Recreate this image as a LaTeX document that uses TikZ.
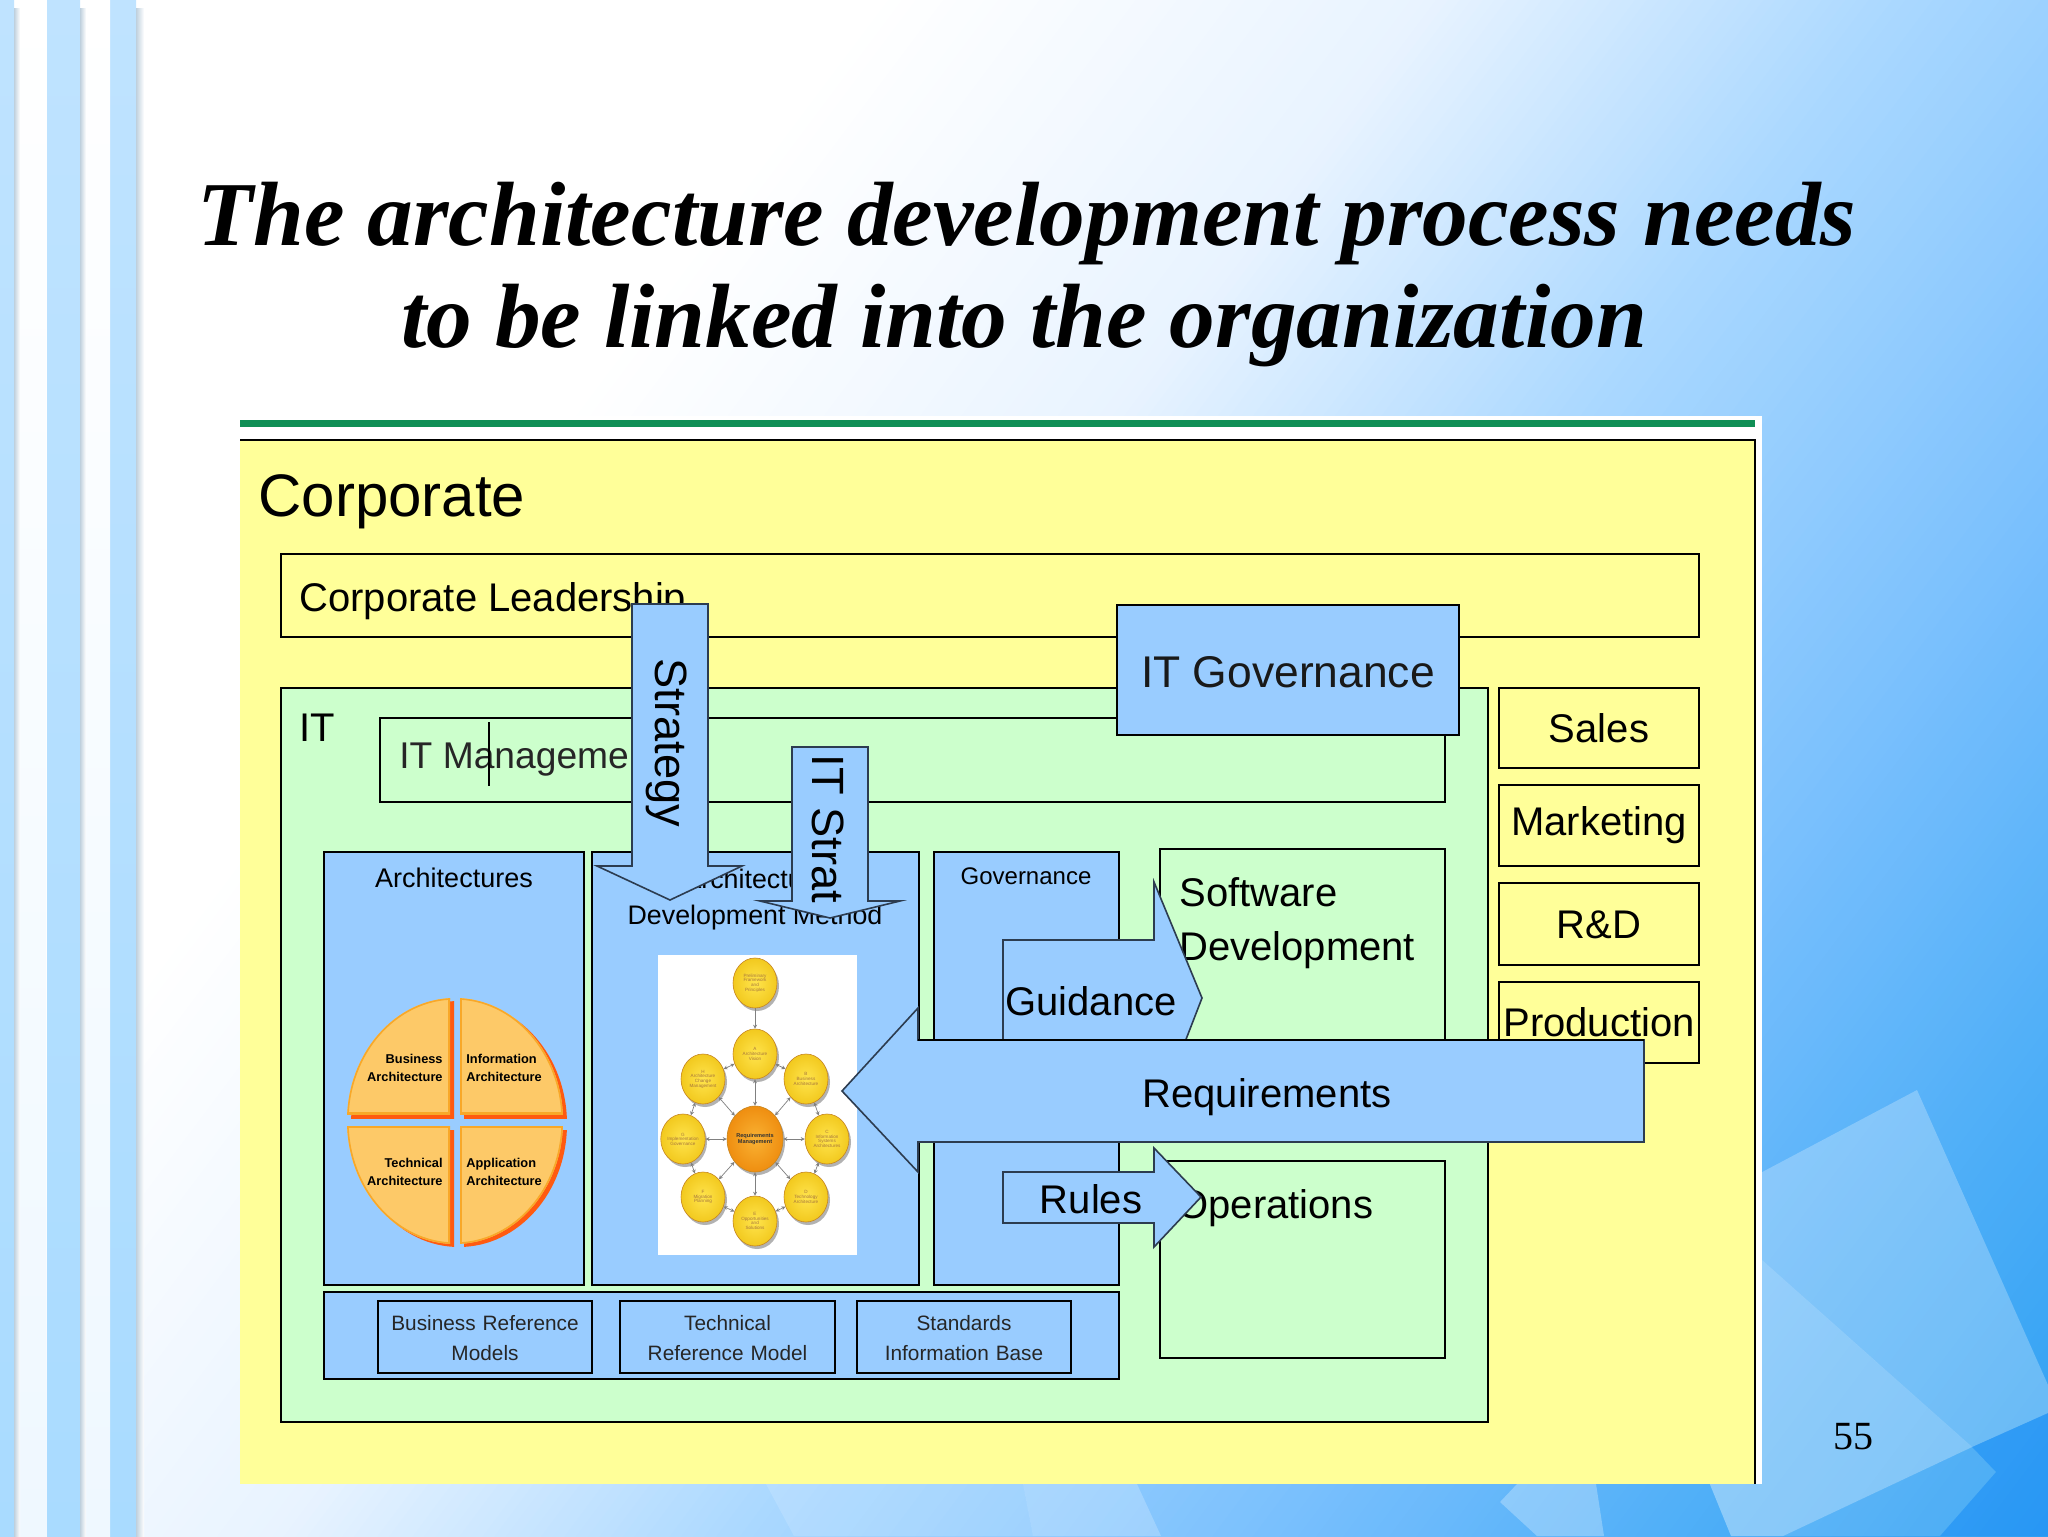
\documentclass[tikz,border=0pt]{standalone}
\usepackage{fontspec}
\setmainfont{Liberation Serif}
\setsansfont{Liberation Sans}
\usetikzlibrary{shapes.geometric,arrows.meta}
\definecolor{cyel}{HTML}{FFFF99}
\definecolor{cgrn}{HTML}{CCFFCC}
\definecolor{cblu}{HTML}{99CCFF}
\definecolor{cbar}{HTML}{0F8F55}
\definecolor{cstr}{HTML}{BFE3FF}
\definecolor{cstrb}{HTML}{A9DBFF}
\definecolor{cedge}{HTML}{2C3C50}
\definecolor{bgA}{HTML}{FFFFFF}
\definecolor{bgB}{HTML}{FFFFFF}
\definecolor{bgC}{HTML}{E8F3FF}
\definecolor{bgD}{HTML}{AAD8FF}
\definecolor{bgE}{HTML}{78BFFD}
\definecolor{bgF}{HTML}{52B0F8}
\definecolor{bgG}{HTML}{2C9FF2}
\definecolor{qfill}{HTML}{FDC968}
\definecolor{qedge}{HTML}{F8A829}
\definecolor{qshad}{HTML}{FF5A10}
\definecolor{ycin}{HTML}{FFE44D}
\definecolor{ycout}{HTML}{F2C91E}
\definecolor{rcin}{HTML}{F9B233}
\definecolor{rcout}{HTML}{EF8E10}
\newcommand{\fsz}[1]{\fontsize{#1}{#1}\selectfont}
\newcommand{\myquad}[4]{%
  \begin{scope}\clip ({#1+4},{#2+4}) rectangle ({#3+4},{#4+4});
    \fill[qshad] (459,1124) ellipse [x radius=108,y radius=123];\end{scope}
  \begin{scope}\clip (455,1121) ellipse [x radius=108,y radius=123];
    \clip (#1,#2) rectangle (#3,#4);
    \fill[qfill] (#1,#2) rectangle (#3,#4);
    \draw[qedge,line width=1.6pt] (455,1121) ellipse [x radius=108,y radius=123];
    \draw[qedge,line width=1.6pt] (#1,#2) rectangle (#3,#4);\end{scope}}
\tikzset{
  x=0.5pt,y=-0.5pt,
  yelbox/.style={fill=cyel,draw=black,line width=1.2pt,font=\sffamily\fsz{20}},
  grnbox/.style={fill=cgrn,draw=black,line width=1.2pt,font=\sffamily\fsz{20}},
  blubox/.style={fill=cblu,draw=black,line width=1.3pt},
  reflabel/.style={font=\sffamily\fsz{10.4},align=center,text=black!85,text width=105pt},
  lbl/.style={font=\sffamily\fsz{20},inner sep=0pt,anchor=west},
  blockarrow/.style={fill=cblu,draw=cedge,line width=0.8pt,line join=miter},
  arrowtext/.style={font=\sffamily\fsz{20},inner sep=0pt},
  quadtext/.style={font=\sffamily\bfseries\fsz{6.4},inner sep=0pt,align=left},
  yc/.style={ellipse,inner sep=0pt,minimum width=22pt,minimum height=25pt,draw=qedge!80!black,line width=.3pt,
     shade,inner color=ycin,outer color=ycout,
     font=\sffamily\fsz{2.3},text=black!55!yellow!70!red,align=center},
  link/.style={draw=black!50,line width=.35pt,{Stealth[length=2pt,width=2pt]}-{Stealth[length=2pt,width=2pt]}},
}
\begin{document}
\begin{tikzpicture}
\useasboundingbox (0,0) rectangle (2048,1536);
% background
\begin{scope}
\clip (0,0) rectangle (2048,1536);
\fill[white] (0,0) rectangle (2048,1536);
\foreach \ta/\tb/\ca/\cb in {700/1140/bgB/bgC,1140/1514/bgC/bgD,1514/1946/bgD/bgE,1946/2238/bgE/bgF,2238/2570/bgF/bgG}{
 \foreach \s in {0,1,...,39}{
  \pgfmathsetmacro\tv{\ta+(\tb-\ta)/40*\s}
  \pgfmathsetmacro\pp{\s*100/40}
  \colorlet{cc}{\cb!\pp!\ca}
  \fill[cc] ({\tv*0.8-1800},{\tv*0.6+2400}) -- ({\tv*0.8+1800},{\tv*0.6-2400})
     -- ({\tv*0.8+1800+2400},{\tv*0.6-2400+1800}) -- ({\tv*0.8-1800+2400},{\tv*0.6+2400+1800}) -- cycle;
 }}
% decorative sheets
\fill[white,opacity=.26] (1917,1090) -- (2048,1385) -- (2048,1413) -- (1972,1447) -- (1700,1205) -- cycle;
\fill[white,opacity=.36] (1700,1205) -- (1972,1447) -- (1783,1536) -- (1731,1536) -- (1700,1460) -- cycle;
\fill[white,opacity=.12] (1972,1447) -- (1996,1472) -- (1940,1536) -- (1783,1536) -- cycle;
\fill[blue!60!cyan,opacity=.14] (1972,1447) -- (2048,1413) -- (2048,1536) -- (1940,1536) -- (1996,1472) -- cycle;
\fill[white,opacity=.14] (766,1484) -- (794,1536) -- (1033,1536) -- (1023,1484) -- cycle;
\fill[white,opacity=.22] (1023,1484) -- (1033,1536) -- (1161,1536) -- (1137,1484) -- cycle;
\fill[white,opacity=.28] (1517,1484) -- (1500,1502) -- (1537,1536) -- (1604,1536) -- (1596,1484) -- cycle;
% left stripes
\foreach \a/\b in {0/14,47/80,110/136}{\shade[top color=cstr,bottom color=cstrb] (\a,0) rectangle (\b,1536);}
\foreach \a/\b in {20/46,86/110}{\shade[top color=white,bottom color=cstr!25!white] (\a,0) rectangle (\b,1536);}
\foreach \a/\b in {14/20,80/86,136/144}{\shade[left color=black!22!cstr!60!white,right color=white] (\a,9) rectangle (\b,1536);}
\end{scope}
% title
\node[anchor=base,inner sep=0pt,font=\rmfamily\bfseries\itshape\fsz{45.65}] (title1) at (1027,245) {The architecture development process needs};
\node[anchor=base,inner sep=0pt,font=\rmfamily\bfseries\itshape\fsz{45.65}] (title2) at (1024,347) {to be linked into the organization};
\node[font=\rmfamily\fsz{20},inner sep=0pt] (pageno) at (1853,1437) {55};
% panel
\fill[white] (240,416) rectangle (1762,1484);
\fill[cbar] (240,420) rectangle (1755,427);
\fill[cyel] (240,440) rectangle (1755,1484);
\draw[black,line width=1.2pt] (240,440) -- (1755,440) -- (1755,1484);
\node[lbl,font=\sffamily\fsz{30}] (corp) at (258,502) {Corporate};
\draw[yelbox] (281,554) rectangle (1699,637);
\node[lbl] (lead) at (299,601) {Corporate Leadership};
\draw[grnbox] (281,688) rectangle (1488,1422);
\node[lbl] (it) at (299,728) {IT};
\draw[grnbox] (380,718) rectangle (1445,802);
\node[lbl,font=\sffamily\fsz{18.6},text=black!85] (itm) at (399,760) {IT Management};
\draw[black,line width=.8pt] (489,722) -- (489,786);
% right boxes
\draw[yelbox] (1499,688) rectangle node (sales) {Sales} (1699,768);
\draw[yelbox] (1499,785) rectangle node (mkt) {Marketing} (1699,866);
\draw[yelbox] (1499,883) rectangle node[yshift=-.5pt] (rd) {R\&D} (1699,965);
\draw[yelbox] (1499,982) rectangle node (prod) {Production} (1699,1063);
% blue panels
\draw[blubox] (324,852) rectangle (584,1285);
\node[font=\sffamily\fsz{13.5},inner sep=0pt] (arch) at (454,878) {Architectures};
\draw[blubox] (592,852) rectangle (919,1285);
\node[font=\sffamily\fsz{13.4},inner sep=0pt] (adm1) at (755,879) {Architecture};
\node[font=\sffamily\fsz{13.4},inner sep=0pt] (adm2) at (755,918) {Development Method};
\draw[blubox] (934,852) rectangle (1119,1285);
\node[font=\sffamily\fsz{12},inner sep=0pt] (gov) at (1026,876) {Governance};
\draw[grnbox] (1160,849) rectangle (1445,1100);
\node[lbl] (sw1) at (1179,892) {Software};
\node[lbl] (sw2) at (1179,950) {Development};
\draw[grnbox] (1160,1161) rectangle (1445,1358);
\node[lbl] (ops) at (1177,1208) {Operations};
\draw[blubox] (324,1292) rectangle (1119,1379);
\draw[blubox] (378,1301) rectangle node[reflabel,yshift=-.5pt] (brm) {Business Reference\\[4.2pt]Models} (592,1373);
\draw[blubox] (620,1301) rectangle node[reflabel,yshift=-.5pt] (trm) {Technical\\[4.2pt]Reference Model} (835,1373);
\draw[blubox] (857,1301) rectangle node[reflabel,yshift=-.5pt] (sib) {Standards\\[4.2pt]Information Base} (1071,1373);
% quadrant disc
\myquad{300}{950}{450}{1114}
\myquad{460}{950}{610}{1114}
\myquad{300}{1126}{450}{1290}
\myquad{460}{1126}{610}{1290}
\node[quadtext,anchor=east,align=right] (q1) at (443,1068) {Business\\[2.6pt]Architecture};
\node[quadtext,anchor=west] (q2) at (466,1068) {Information\\[2.6pt]Architecture};
\node[quadtext,anchor=east,align=right] (q3) at (443,1172) {Technical\\[2.6pt]Architecture};
\node[quadtext,anchor=west] (q4) at (466,1172) {Application\\[2.6pt]Architecture};
% ADM wheel
\fill[white] (658,955) rectangle (857,1255);
\foreach \cx/\cy in {755/983,755/1054,806/1079,827/1139,806/1197,755/1221,703/1197,683/1139,703/1079}{\fill[black!30] ({\cx+2},{\cy+3}) ellipse [x radius=22,y radius=25];}
\fill[black!30] (757,1142) ellipse [x radius=28,y radius=33];
\node[yc] (pre) at (755,983) {Preliminary\\Framework\\and\\Principles};
\node[yc] (A) at (755,1054) {A\\Architecture\\Vision};
\node[yc] (B) at (806,1079) {B\\Business\\Architecture};
\node[yc] (C) at (827,1139) {C\\Information\\Systems\\Architectures};
\node[yc] (D) at (806,1197) {D\\Technology\\Architecture};
\node[yc] (E) at (755,1221) {E\\Opportunities\\and\\Solutions};
\node[yc] (F) at (703,1197) {F\\Migration\\Planning};
\node[yc] (G) at (683,1139) {G\\Implementation\\Governance};
\node[yc] (H) at (703,1079) {H\\Architecture\\Change\\Management};
\node[yc,minimum width=28pt,minimum height=33pt,inner color=rcin,outer color=rcout,font=\sffamily\bfseries\fsz{2.8},text=black!80] (R) at (755,1139) {Requirements\\Management};
\foreach \a/\b in {A/B,B/C,C/D,D/E,E/F,F/G,G/H,H/A,A/R,B/R,C/R,D/R,E/R,F/R,G/R,H/R}{\draw[link] (\a) -- (\b);}
\draw[draw=black!50,line width=.35pt,-{Stealth[length=2pt,width=2pt]}] (pre) -- (A);
% IT governance box
\draw[blubox] (1117,605) rectangle node[font=\sffamily\fsz{22.2},text=black!90,yshift=-1.2pt] (itg) {IT Governance} (1459,735);
% block arrows
\draw[blockarrow] (632,604) -- (708,604) -- (708,866) -- (742,866) -- (670,900) -- (597,866) -- (632,866) -- cycle;
\node[arrowtext,font=\sffamily\fsz{22.6},rotate=-90] (strategy) at (667,743) {Strategy};
\draw[blockarrow] (792,747) -- (868,747) -- (868,901) -- (900,901) -- (830,918) -- (760,901) -- (792,901) -- cycle;
\node[arrowtext,font=\sffamily\fsz{22.6},rotate=-90] (itstrat) at (828,829) {IT Strat};
\draw[blockarrow] (1003,1100) -- (1003,940) -- (1154,940) -- (1154,882) -- (1202,998) -- (1178,1060) -- (1178,1100) -- cycle;
\node[arrowtext] (guid) at (1091,1001) {Guidance};
\draw[blockarrow] (1003,1172) -- (1154,1172) -- (1154,1148) -- (1201,1197) -- (1154,1247) -- (1154,1223) -- (1003,1223) -- cycle;
\node[arrowtext] (rules) at (1091,1199) {Rules};
\draw[blockarrow] (1644,1040) -- (918,1040) -- (918,1008) -- (842,1091) -- (918,1172) -- (918,1142) -- (1644,1142) -- cycle;
\draw[black,line width=1.2pt] (918,1040) -- (1644,1040);
\node[arrowtext] (req) at (1267,1097) {Requirements};
\end{tikzpicture}
\end{document}
